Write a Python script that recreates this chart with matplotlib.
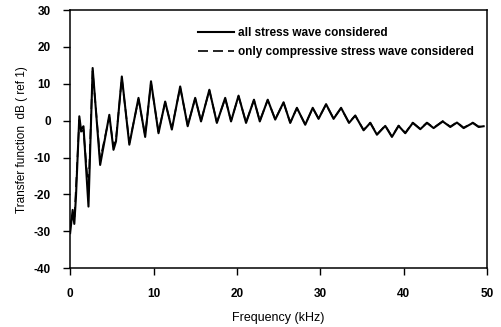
import numpy as np
import matplotlib
matplotlib.use("Agg")
import matplotlib.pyplot as plt

plt.rcParams['font.family'] = ['Liberation Sans', 'DejaVu Sans']
plt.rcParams['axes.unicode_minus'] = False

# frecuencias (kHz)
freq = [0.0, 0.3, 0.5, 0.7, 1.1, 1.3, 1.6, 2.2, 2.7, 3.6, 4.7, 5.2, 5.5, 6.2,
        7.1, 8.2, 9.0, 9.7, 10.6, 11.4, 12.2, 13.2, 14.1, 15.0, 15.7, 16.7,
        17.6, 18.6, 19.3, 20.2, 21.1, 22.05, 22.75, 23.7, 24.6, 25.6, 26.4,
        27.2, 28.2, 29.1, 29.8, 30.7, 31.6, 32.5, 33.45, 34.2, 35.2, 36.0,
        36.8, 37.8, 38.6, 39.4, 40.2, 41.1, 42.0, 42.8, 43.6, 44.7, 45.6,
        46.4, 47.2, 48.3, 49.0, 49.6]

# toda la onda de tensión
all_wave = [-30.5, -24.2, -28.0, -20.6, 1.2, -2.4, -1.5, -23.3, 14.3, -12.0,
            1.6, -7.9, -5.6, 12.0, -6.5, 6.2, -4.4, 10.7, -3.4, 5.2, -2.4,
            9.3, -1.5, 6.2, -0.2, 8.4, -0.6, 6.2, -0.2, 6.8, -0.6, 5.7, -0.2,
            5.7, 0.3, 5.0, -0.6, 3.5, -1.1, 3.5, 0.5, 4.5, 0.5, 3.5, -0.6,
            1.4, -2.6, -0.6, -3.8, -1.4, -4.4, -1.4, -3.4, -0.6, -2.3, -0.6,
            -2.0, -0.2, -1.7, -0.5, -2.0, -0.6, -1.7, -1.5]

# solo onda de compresión
compressive = [-28.0, -26.0, -27.0, -18.0, 0.2, -3.0, -2.5, -19.0, 13.5,
               -10.5, 1.0, -7.0, -5.0, 11.5, -6.0, 5.8, -4.0, 10.3, -3.0,
               5.0, -2.0, 9.0, -1.2, 6.0, 0.0, 8.2, -0.4, 6.0, 0.0, 6.6,
               -0.4, 5.6, 0.0, 5.6, 0.4, 4.9, -0.5, 3.4, -1.0, 3.4, 0.6,
               4.4, 0.6, 3.4, -0.5, 1.4, -2.5, -0.5, -3.7, -1.3, -4.3, -1.3,
               -3.3, -0.5, -2.2, -0.5, -1.9, -0.1, -1.6, -0.4, -1.9, -0.5,
               -1.6, -1.4]

fig = plt.figure(figsize=(5.01, 3.27), dpi=100)
ax = fig.add_axes([0.140, 0.180, 0.832, 0.789])

ax.plot(freq, compressive, color='black', lw=1.2, ls=(0, (6, 3)),
        label='only compressive stress wave considered')
ax.plot(freq, all_wave, color='black', lw=1.5,
        label='all stress wave considered')

ax.set_xlim(0, 50)
ax.set_ylim(-40, 30)
ax.set_xticks([0, 10, 20, 30, 40, 50])
ax.set_yticks([-40, -30, -20, -10, 0, 10, 20, 30])
ax.tick_params(direction='out', length=5, width=1, labelsize=8.5)
ax.tick_params(axis='x', pad=9)
ax.tick_params(axis='y', pad=9)
for lbl in ax.get_xticklabels() + ax.get_yticklabels():
    lbl.set_fontweight('bold')
for s in ax.spines.values():
    s.set_linewidth(1.1)

ax.set_xlabel('Frequency (kHz)', fontsize=9, labelpad=9)
ax.set_ylabel('Transfer function  dB ( ref 1)', fontsize=8.5, labelpad=4)

handles, labels = ax.get_legend_handles_labels()
ax.legend(handles[::-1], labels[::-1], loc='upper right', frameon=False,
          prop={'size': 8.5, 'weight': 'bold'}, handlelength=3.0,
          handletextpad=0.4, labelspacing=0.6,
          bbox_to_anchor=(0.995, 0.975))

fig.savefig('out.png', dpi=100)
